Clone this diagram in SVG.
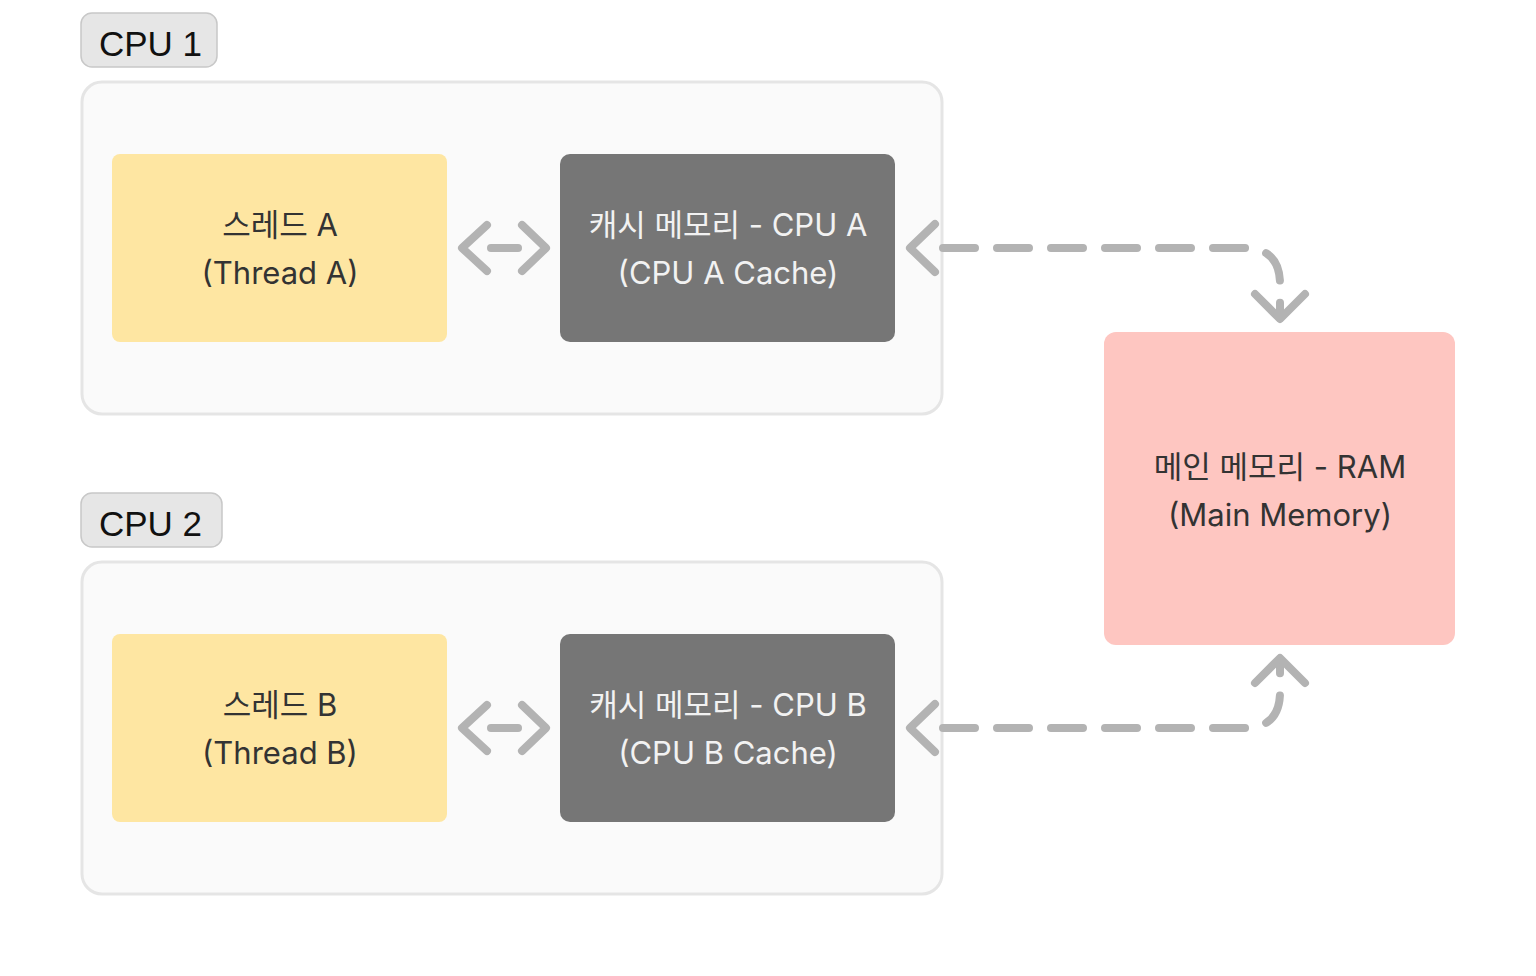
<svg xmlns="http://www.w3.org/2000/svg" width="1536" height="976" viewBox="0 0 1536 976">
<style>
.lbl{fill:#e6e6e6;stroke:#c8c8c8;stroke-width:1.5}
.lbltxt{font-family:"Liberation Sans",Arial,sans-serif;font-size:35px;fill:#111}
.box{fill:#fafafa;stroke:#e5e5e5;stroke-width:3}
.thread{fill:#fee6a2}
.cache{fill:#767676}
.ram{fill:#fec6c1}
.t{font-family:Inter,"Noto Sans CJK KR",sans-serif;font-size:31px;text-anchor:middle}
.dark{fill:#333333}
.light{fill:#f2f2f2}
.ln{fill:none;stroke:#b3b3b3;stroke-width:8;stroke-linecap:round;stroke-linejoin:round}
.dash{stroke-dasharray:32 22}
</style>
<rect width="1536" height="976" fill="#ffffff"/>
<g id="cpu1">
<rect class="lbl" x="81" y="13" width="136" height="54" rx="11"/>
<text class="lbltxt" x="99" y="56">CPU 1</text>
<rect class="box" x="82" y="82" width="860" height="332" rx="20"/>
</g>
<g id="cpu2">
<rect class="lbl" x="81" y="493" width="141" height="54" rx="11"/>
<text class="lbltxt" x="99" y="536">CPU 2</text>
<rect class="box" x="82" y="562" width="860" height="332" rx="20"/>
</g>
<g id="threadA">
<rect class="thread" x="112" y="154" width="335" height="188" rx="8"/>
<text class="t dark" x="280" y="236">스레드 A</text>
<text class="t dark" x="280" y="284">(Thread A)</text>
</g>
<g id="cacheA">
<rect class="cache" x="560" y="154" width="335" height="188" rx="10"/>
<text class="t light" x="728" y="236">캐시 메모리 - CPU A</text>
<text class="t light" x="728" y="284">(CPU A Cache)</text>
</g>
<g id="threadB">
<rect class="thread" x="112" y="634" width="335" height="188" rx="8"/>
<text class="t dark" x="280" y="716">스레드 B</text>
<text class="t dark" x="280" y="764">(Thread B)</text>
</g>
<g id="cacheB">
<rect class="cache" x="560" y="634" width="335" height="188" rx="10"/>
<text class="t light" x="728" y="716">캐시 메모리 - CPU B</text>
<text class="t light" x="728" y="764">(CPU B Cache)</text>
</g>
<g id="ram">
<rect class="ram" x="1104" y="332" width="351" height="313" rx="12"/>
<text class="t dark" x="1280" y="478">메인 메모리 - RAM</text>
<text class="t dark" x="1280" y="526">(Main Memory)</text>
</g>
<g id="connectors">
<line class="ln" x1="491" y1="248" x2="518" y2="248"/>
<polyline class="ln" points="487,225 462,248 487,271"/>
<polyline class="ln" points="522,225 546,248 522,271"/>
<line class="ln" x1="491" y1="728" x2="518" y2="728"/>
<polyline class="ln" points="487,705 462,728 487,751"/>
<polyline class="ln" points="522,705 546,728 522,751"/>
<path class="ln dash" d="M943 248 L1244 248 Q1280 248 1280 284 L1280 318"/>
<polyline class="ln" points="935,224 910,248 935,272"/>
<polyline class="ln" points="1255,294 1280,319 1305,294"/>
<path class="ln dash" d="M943 728 L1244 728 Q1280 728 1280 692 L1280 660"/>
<polyline class="ln" points="935,704 910,728 935,752"/>
<polyline class="ln" points="1255,683 1280,658 1305,683"/>
</g>
</svg>
